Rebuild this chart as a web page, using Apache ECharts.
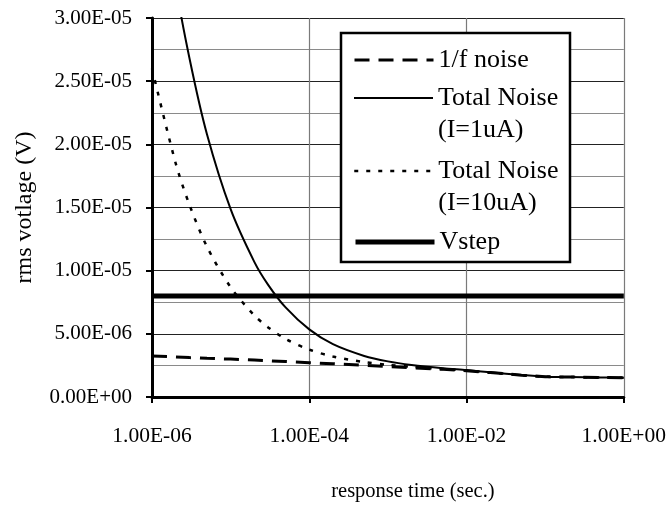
<!DOCTYPE html>
<html>
<head>
<meta charset="utf-8">
<script src="https://cdn.jsdelivr.net/npm/echarts@6/dist/echarts.min.js"></script>
<style>
html,body{margin:0;padding:0;background:#fff;}
#c{width:669px;height:517px;}
</style>
</head>
<body>
<div id="c"></div>
<script>
// response time (sec.)
const times = [1e-6, 2e-6, 3e-6, 5e-6, 1e-5, 2e-5, 3e-5, 5e-5, 1e-4, 2e-4, 5e-4,
               1e-3, 2e-3, 5e-3, 1e-2, 2e-2, 5e-2, 1e-1, 2e-1, 5e-1, 1];
// rms voltage (V)
const oneOverF = [3.25e-6, 3.17e-6, 3.12e-6, 3.06e-6, 3.00e-6, 2.92e-6, 2.87e-6, 2.81e-6, 2.72e-6, 2.63e-6, 2.51e-6,
                  2.42e-6, 2.32e-6, 2.19e-6, 2.08e-6, 1.93e-6, 1.73e-6, 1.60e-6, 1.58e-6, 1.55e-6, 1.53e-6];
const total1uA = [4.62e-5, 3.27e-5, 2.68e-5, 2.08e-5, 1.487e-5, 1.07e-5, 8.88e-6, 7.09e-6, 5.35e-6, 4.18e-6, 3.25e-6,
                  2.82e-6, 2.54e-6, 2.28e-6, 2.13e-6, 1.96e-6, 1.74e-6, 1.61e-6, 1.58e-6, 1.55e-6, 1.53e-6];
const total10uA = [2.60e-5, 1.85e-5, 1.52e-5, 1.19e-5, 8.69e-6, 6.46e-6, 5.51e-6, 4.60e-6, 3.75e-6, 3.20e-6, 2.76e-6,
                   2.55e-6, 2.39e-6, 2.22e-6, 2.10e-6, 1.94e-6, 1.73e-6, 1.60e-6, 1.58e-6, 1.55e-6, 1.53e-6];
const vstepTimes = [1e-6, 1];
const vstepValues = [8e-6, 8e-6];

const seriesNames = ['1/f noise', 'Total Noise (I=1uA)', 'Total Noise (I=10uA)', 'Vstep'];
const legendLabels = ['1/f noise', '\nTotal Noise\n(I=1uA)', '\nTotal Noise\n(I=10uA)', 'Vstep'];

function zip(xs, ys) { return xs.map((x, i) => [x, ys[i]]); }
function fmtE(v) {
  const parts = Number(v).toExponential(2).split('e');
  const n = parseInt(parts[1], 10);
  return parts[0] + 'E' + (n < 0 ? '-' : '+') + String(Math.abs(n)).padStart(2, '0');
}

const FONT = 'Liberation Serif';
const chart = echarts.init(document.getElementById('c'), null, {renderer: 'canvas'});

const legendBase = {
  orient: 'vertical',
  left: 353,
  padding: 0,
  itemWidth: 79,
  itemHeight: 14,
  z: 60,
  selectedMode: false,
  itemStyle: {opacity: 0},
  lineStyle: {width: 'inherit'},
  textStyle: {fontFamily: FONT, fontSize: 26, color: '#000', lineHeight: 32},
  formatter: function (name) { return legendLabels[seriesNames.indexOf(name)]; }
};

const option = {
  backgroundColor: '#fff',
  animation: false,
  grid: {left: 152, right: 43, top: 18, bottom: 120, containLabel: false},
  xAxis: {
    type: 'log',
    logBase: 100,
    min: 1e-6,
    max: 1,
    splitNumber: 3,
    name: 'response time (sec.)',
    nameLocation: 'middle',
    nameGap: 84,
    nameTextStyle: {fontFamily: FONT, fontSize: 20.5, color: '#000', padding: [0, 0, 0, 50]},
    axisLine: {show: true, onZero: false, lineStyle: {color: '#000', width: 3}},
    axisTick: {show: true, length: 6, lineStyle: {color: '#000', width: 2}},
    axisLabel: {fontFamily: FONT, fontSize: 21.5, color: '#000', margin: 28, formatter: fmtE},
    splitLine: {show: true, lineStyle: {color: '#7a7a7a', width: 1.2}},
    minorTick: {show: false},
    minorSplitLine: {show: false}
  },
  yAxis: {
    type: 'value',
    min: 0,
    max: 3e-5,
    interval: 5e-6,
    name: 'rms votlage (V)',
    nameLocation: 'middle',
    nameRotate: 90,
    nameGap: 115,
    nameTextStyle: {fontFamily: FONT, fontSize: 24, color: '#000'},
    axisLine: {show: true, lineStyle: {color: '#000', width: 3}},
    axisTick: {show: true, length: 6, lineStyle: {color: '#000', width: 2}},
    axisLabel: {fontFamily: FONT, fontSize: 21, color: '#000', margin: 20, formatter: fmtE},
    splitLine: {show: true, lineStyle: {color: '#222', width: 1}},
    minorTick: {show: false, splitNumber: 2},
    minorSplitLine: {show: true, lineStyle: {color: '#8a8a8a', width: 1.2}}
  },
  legend: [
    Object.assign({}, legendBase, {data: [seriesNames[0]], top: 44}),
    Object.assign({}, legendBase, {data: [seriesNames[1]], top: 50}),
    Object.assign({}, legendBase, {data: [seriesNames[2]], top: 123}),
    Object.assign({}, legendBase, {data: [seriesNames[3]], top: 226})
  ],
  graphic: [{
    type: 'rect',
    z: 50,
    shape: {x: 341, y: 33, width: 229, height: 229},
    style: {fill: '#fff', stroke: '#000', lineWidth: 2.5}
  }],
  series: [
    {
      name: seriesNames[0], type: 'line', symbol: 'none', clip: true, z: 3,
      data: zip(times, oneOverF),
      lineStyle: {color: '#000', width: 3, type: [15, 9]}
    },
    {
      name: seriesNames[1], type: 'line', symbol: 'none', clip: true, z: 3, smooth: 0.3,
      data: zip(times, total1uA),
      lineStyle: {color: '#000', width: 2}
    },
    {
      name: seriesNames[2], type: 'line', symbol: 'none', clip: true, z: 3, smooth: 0.3,
      data: zip(times, total10uA),
      lineStyle: {color: '#000', width: 2.5, type: [4, 8]}
    },
    {
      name: seriesNames[3], type: 'line', symbol: 'none', clip: true, z: 4,
      data: zip(vstepTimes, vstepValues),
      lineStyle: {color: '#000', width: 5}
    }
  ]
};
chart.setOption(option);
</script>
</body>
</html>
